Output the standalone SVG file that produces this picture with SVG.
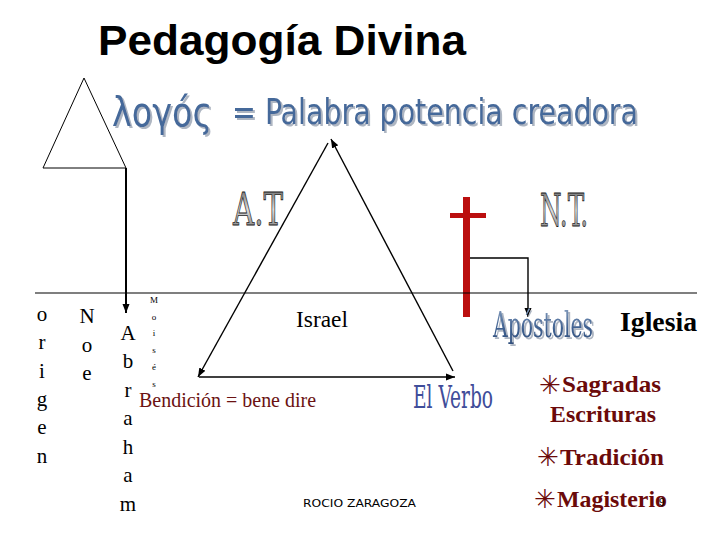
<svg xmlns="http://www.w3.org/2000/svg" width="720" height="540" viewBox="0 0 720 540">
<style>
.ser{font-family:"Liberation Serif","DejaVu Serif",serif}
.col{font-family:"Liberation Serif","DejaVu Serif",serif;font-size:21px;fill:#000;text-anchor:middle}
.tiny{font-family:"Liberation Serif","DejaVu Serif",serif;font-size:9px;fill:#000;text-anchor:middle}
.list{font-family:"Liberation Serif","DejaVu Serif",serif;font-size:23px;font-weight:bold;fill:#6b0a0a}
.star{font-family:"DejaVu Sans",sans-serif;font-size:26px;fill:#6b0a0a;text-anchor:end}
.hand{font-family:"DejaVu Sans Condensed","DejaVu Sans",sans-serif;fill:#45699a;filter:url(#sh)}
.cond{font-family:"DejaVu Serif Condensed","DejaVu Serif",serif}
.ln{stroke:#000;fill:none}
</style>
<defs>
<marker id="ah" markerUnits="userSpaceOnUse" markerWidth="10" markerHeight="10" refX="9" refY="5" orient="auto">
<path d="M0,1.5 L9,5 L0,8.5 Z" fill="#000"/>
</marker>
<filter id="sh" x="-5%" y="-20%" width="115%" height="150%">
<feOffset in="SourceAlpha" dx="2" dy="2" result="o"/>
<feFlood flood-color="#aeb6c2"/>
<feComposite in2="o" operator="in" result="s"/>
<feMerge><feMergeNode in="s"/><feMergeNode in="SourceGraphic"/></feMerge>
</filter>
<linearGradient id="gray" x1="0" y1="0" x2="0" y2="1">
<stop offset="0" stop-color="#555"/>
<stop offset="0.5" stop-color="#ddd"/>
<stop offset="1" stop-color="#666"/>
</linearGradient>
<linearGradient id="blue" x1="0" y1="0" x2="0" y2="1">
<stop offset="0" stop-color="#8fa6c4"/>
<stop offset="0.6" stop-color="#3e6090"/>
<stop offset="1" stop-color="#2f4f7c"/>
</linearGradient>
</defs>
<rect width="720" height="540" fill="#fff"/>

<g id="title">
<text x="98" y="55" font-family="Liberation Sans, Arial, sans-serif" font-weight="bold" font-size="43" textLength="368" lengthAdjust="spacingAndGlyphs">Pedagogía Divina</text>
</g>

<g id="logos">
<text class="hand" x="112" y="126" font-size="40" textLength="100" lengthAdjust="spacingAndGlyphs">λογός</text>
<text class="hand" x="232" y="124" font-size="36" textLength="406" lengthAdjust="spacingAndGlyphs">= Palabra potencia creadora</text>
</g>

<g id="small-triangle">
<path class="ln" stroke-width="1" d="M84,78 L43,168 L126,168 Z"/>
</g>

<g id="cross">
<rect x="463" y="197" width="7" height="120" fill="#bb0f0f"/>
<rect x="450" y="213" width="36" height="5" fill="#bb0f0f"/>
</g>

<g id="connectors">
<line class="ln" stroke-width="1.2" x1="35" y1="293" x2="697" y2="293"/>
<line class="ln" stroke-width="2" x1="126" y1="168" x2="126" y2="313" marker-end="url(#ah)"/>
<line class="ln" stroke-width="1.6" x1="199" y1="377" x2="455" y2="377" marker-end="url(#ah)"/>
<line class="ln" stroke-width="1.4" x1="453" y1="371" x2="331" y2="139" marker-end="url(#ah)"/>
<line class="ln" stroke-width="1.4" x1="328" y1="143" x2="198" y2="377" marker-end="url(#ah)"/>
<path class="ln" stroke-width="1.4" d="M470,258 L528,258 L528,317" marker-end="url(#ah)"/>
</g>

<g id="AT">
<text class="cond" x="233" y="225" font-size="44" fill="url(#gray)" stroke="#222" stroke-width="0.8" textLength="50" lengthAdjust="spacingAndGlyphs">A.T</text>
</g>
<g id="NT">
<text class="cond" x="540" y="226" font-size="44" fill="url(#gray)" stroke="#222" stroke-width="0.8" textLength="48" lengthAdjust="spacingAndGlyphs">N.T.</text>
</g>

<g id="origen">
<text class="col" x="42" y="321">o</text>
<text class="col" x="42" y="349">r</text>
<text class="col" x="42" y="378">i</text>
<text class="col" x="42" y="406">g</text>
<text class="col" x="42" y="434">e</text>
<text class="col" x="42" y="463">n</text>
</g>
<g id="noe">
<text class="col" x="87" y="323" font-size="22">N</text>
<text class="col" x="87" y="352">o</text>
<text class="col" x="87" y="380">e</text>
</g>
<g id="abraham">
<text class="col" x="128" y="340" font-size="22">A</text>
<text class="col" x="128" y="368">b</text>
<text class="col" x="128" y="397">r</text>
<text class="col" x="128" y="425">a</text>
<text class="col" x="128" y="454">h</text>
<text class="col" x="128" y="482">a</text>
<text class="col" x="128" y="511">m</text>
</g>
<g id="moises">
<text class="tiny" x="154" y="303" font-size="11">M</text>
<text class="tiny" x="154" y="320">o</text>
<text class="tiny" x="154" y="336">i</text>
<text class="tiny" x="154" y="353">s</text>
<text class="tiny" x="154" y="370">é</text>
<text class="tiny" x="154" y="387">s</text>
</g>

<g id="israel">
<text class="ser" x="296" y="327" font-size="23" textLength="52" lengthAdjust="spacingAndGlyphs">Israel</text>
</g>
<g id="bendicion">
<text class="ser" x="139" y="407" font-size="20" fill="#6b1212" textLength="177" lengthAdjust="spacingAndGlyphs">Bendición = bene dire</text>
</g>
<g id="elverbo">
<text class="cond" x="413" y="408" font-size="31" fill="#3f4d9a" textLength="80" lengthAdjust="spacingAndGlyphs">El Verbo</text>
</g>
<g id="apostoles">
<text class="cond" x="493" y="337" font-size="36" fill="url(#blue)" filter="url(#sh)" textLength="100" lengthAdjust="spacingAndGlyphs">Apóstoles</text>
</g>
<g id="iglesia">
<text class="ser" x="620" y="331" font-size="27" font-weight="bold" textLength="77" lengthAdjust="spacingAndGlyphs">Iglesia</text>
</g>

<g id="list">
<text class="star" x="561" y="394">✳</text>
<text class="list" x="562" y="392" textLength="99" lengthAdjust="spacingAndGlyphs">Sagradas</text>
<text class="list" x="550" y="422" textLength="106" lengthAdjust="spacingAndGlyphs">Escrituras</text>
<text class="star" x="559" y="466">✳</text>
<text class="list" x="560" y="465" textLength="104" lengthAdjust="spacingAndGlyphs">Tradición</text>
<text class="star" x="556" y="508">✳</text>
<text class="list" x="557" y="507" textLength="110" lengthAdjust="spacingAndGlyphs">Magisterio</text>
<text x="659" y="506" font-family="Liberation Sans, Arial, sans-serif" font-size="10" fill="#000">9</text>
</g>

<g id="footer">
<text x="303" y="507" font-family="DejaVu Sans, sans-serif" font-size="11" textLength="113" lengthAdjust="spacingAndGlyphs">ROCIO ZARAGOZA</text>
</g>
</svg>
